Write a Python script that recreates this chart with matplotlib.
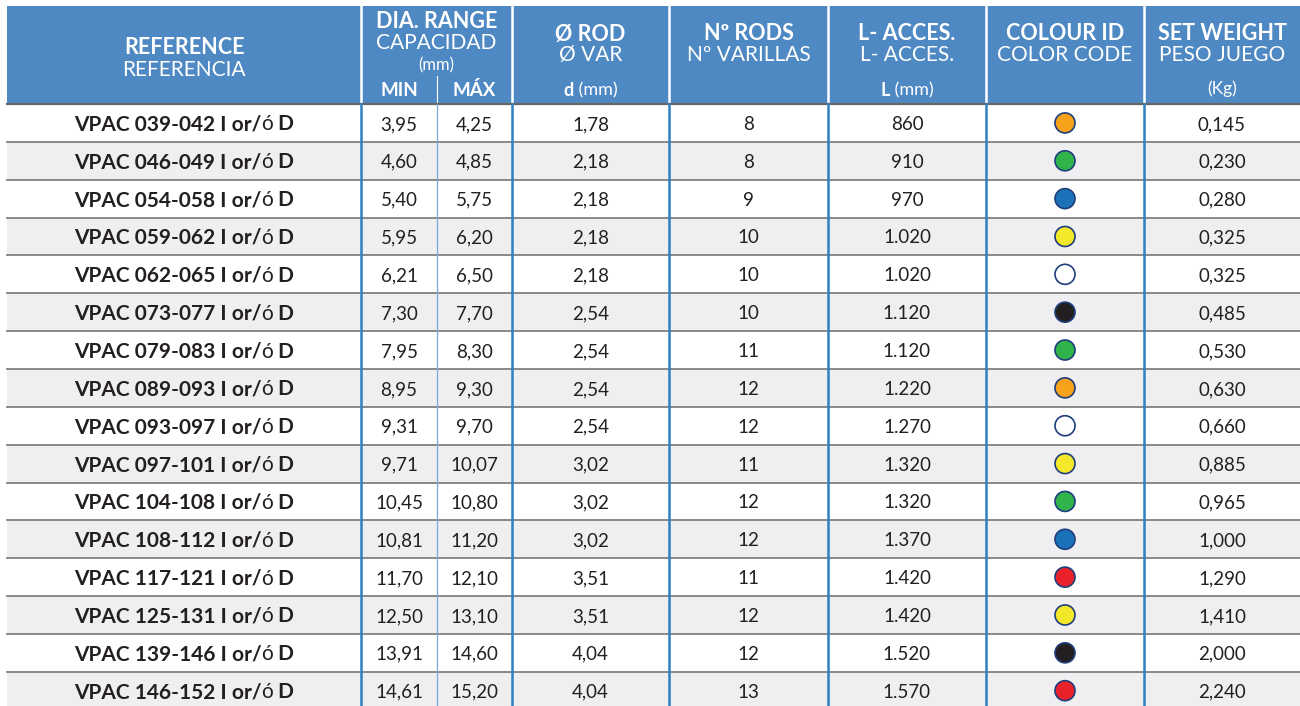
import matplotlib
matplotlib.use("Agg")
import matplotlib.pyplot as plt
from matplotlib.patches import Rectangle, Ellipse

# ---------------- data ----------------
ref_ranges = ["039-042", "046-049", "054-058", "059-062", "062-065", "073-077",
              "079-083", "089-093", "093-097", "097-101", "104-108", "108-112",
              "117-121", "125-131", "139-146", "146-152"]
dia_min = [3.95, 4.60, 5.40, 5.95, 6.21, 7.30, 7.95, 8.95, 9.31, 9.71, 10.45, 10.81,
           11.70, 12.50, 13.91, 14.61]
dia_max = [4.25, 4.85, 5.75, 6.20, 6.50, 7.70, 8.30, 9.30, 9.70, 10.07, 10.80, 11.20,
           12.10, 13.10, 14.60, 15.20]
rod_d = [1.78, 2.18, 2.18, 2.18, 2.18, 2.54, 2.54, 2.54, 2.54, 3.02, 3.02, 3.02,
         3.51, 3.51, 4.04, 4.04]
n_rods = [8, 8, 9, 10, 10, 10, 11, 12, 12, 11, 12, 12, 11, 12, 12, 13]
length_mm = [860, 910, 970, 1020, 1020, 1120, 1120, 1220, 1270, 1320, 1320, 1370,
             1420, 1420, 1520, 1570]
colour_id = ["orange", "green", "blue", "yellow", "white", "black", "green", "orange",
             "white", "yellow", "green", "blue", "red", "yellow", "black", "red"]
set_weight = [0.145, 0.230, 0.280, 0.325, 0.325, 0.485, 0.530, 0.630, 0.660, 0.885,
              0.965, 1.000, 1.290, 1.410, 2.000, 2.240]

header_en = ["REFERENCE", "DIA. RANGE", "Ø ROD", "Nº RODS", "L- ACCES.", "COLOUR ID", "SET WEIGHT"]
header_es = ["REFERENCIA", "CAPACIDAD", "Ø VAR", "Nº VARILLAS", "L- ACCES.", "COLOR CODE", "PESO JUEGO"]

# ---------------- styles ----------------
BLUE_HDR = "#4f89c3"
ROW_GRAY = "#efeff1"
TXT = "#231f20"
VLINE = "#2f7fc1"
HLINE = "#808080"
COLMAP = {"orange": "#f7a21b", "green": "#2fb34a", "blue": "#1b72b9", "yellow": "#f3e82a",
          "white": "#ffffff", "black": "#231f20", "red": "#e8212a"}
FONT = "Lato"
LIGHT = "normal"

def fmt_dec(v, n):
    return f"{v:.{n}f}".replace(".", ",")

def fmt_thou(v):
    return f"{v:,}".replace(",", ".")

W, H = 1300, 706
fig = plt.figure(figsize=(W / 100, H / 100), dpi=100)
ax = fig.add_axes([0, 0, 1, 1])
ax.set_xlim(0, W)
ax.set_ylim(H, 0)
ax.axis("off")

# column bounds
cols = [7, 361, 512, 669, 828, 986, 1144, 1300]
mid_split = 437
hdr_top, hdr_bot = 6, 104
row_h = 37.85

# header background
ax.add_patch(Rectangle((cols[0], hdr_top), cols[-1] - cols[0], hdr_bot - hdr_top,
                       facecolor=BLUE_HDR, edgecolor="none", zorder=1))
for x in cols[1:-1]:
    ax.plot([x, x], [hdr_top, hdr_bot], color="white", lw=1.8, zorder=2)
ax.plot([mid_split, mid_split], [76, hdr_bot], color="white", lw=0.8, zorder=2)

# rows
n = len(ref_ranges)
for i in range(n):
    y0 = hdr_bot + i * row_h
    fc = "white" if i % 2 == 0 else ROW_GRAY
    ax.add_patch(Rectangle((cols[0], y0), cols[-1] - cols[0], row_h,
                           facecolor=fc, edgecolor="none", zorder=1))
for i in range(n + 1):
    y = hdr_bot + i * row_h
    ax.plot([cols[0], cols[-1]], [y, y], color=HLINE if i else "#666666",
            lw=1.3 if i else 1.6, zorder=3)
for x in cols[1:-1]:
    ax.plot([x, x], [hdr_bot, H], color=VLINE, lw=1.8, zorder=4)
ax.plot([mid_split, mid_split], [hdr_bot, H], color="#7aa9d6", lw=0.9, zorder=4)

fig.canvas.draw()
renderer = fig.canvas.get_renderer()

def rich(x_center, y, parts, size, color):
    """parts: list of (text, weight). Centered at x_center."""
    objs = []
    widths = []
    for s, wgt in parts:
        t = ax.text(0, y, s, fontsize=size, fontweight=wgt, family=FONT, color=color,
                    ha="left", va="center", zorder=6)
        bb = t.get_window_extent(renderer=renderer)
        objs.append(t)
        widths.append(bb.width)
    total = sum(widths)
    x = x_center - total / 2
    for t, w in zip(objs, widths):
        t.set_x(x)
        x += w

def ctext(x, y, s, size, weight="normal", color=TXT, family=FONT):
    ax.text(x, y, s, fontsize=size, fontweight=weight, family=family, color=color,
            ha="center", va="center", zorder=6)

# header texts
centers = [(cols[i] + cols[i + 1]) / 2 for i in range(len(cols) - 1)]
HB, HL = 15.5, 15
ctext(centers[0], 47, header_en[0], HB, "bold", "white")
ctext(centers[0], 70, header_es[0], HL, LIGHT, "white")
ctext(centers[1], 21, header_en[1], HB, "bold", "white")
ctext(centers[1], 43, header_es[1], HL, LIGHT, "white")
ctext(centers[1], 65, "(mm)", 12, LIGHT, "white")
ctext((cols[1] + mid_split) / 2, 90, "MIN", 13.5, "bold", "white")
ctext((mid_split + cols[2]) / 2, 90, "MÁX", 13.5, "bold", "white")
for k in range(2, 7):
    ctext(centers[k], 34, header_en[k], HB, "bold", "white")
    ctext(centers[k], 55, header_es[k], HL, LIGHT, "white")
rich(centers[2], 90, [("d", "bold"), (" (mm)", LIGHT)], 13, "white")
rich(centers[4], 90, [("L", "bold"), (" (mm)", LIGHT)], 13, "white")
ctext(centers[6], 89, "(Kg)", 12.5, LIGHT, "white")

# body
DS = 13.5
for i in range(n):
    yc = hdr_bot + (i + 0.5) * row_h
    yt = yc + 1.5
    rich(centers[0], yt, [(f"VPAC {ref_ranges[i]} I or/", "bold"), ("ó", LIGHT), (" D", "bold")],
         15, TXT)
    ctext((cols[1] + mid_split) / 2, yt, fmt_dec(dia_min[i], 2), DS)
    ctext((mid_split + cols[2]) / 2, yt, fmt_dec(dia_max[i], 2), DS)
    ctext(centers[2], yt, fmt_dec(rod_d[i], 2), DS)
    ctext(centers[3], yt, str(n_rods[i]), DS)
    ctext(centers[4], yt, fmt_thou(length_mm[i]), DS)
    ax.add_patch(Ellipse((centers[5], yc), 20, 20, facecolor=COLMAP[colour_id[i]],
                         edgecolor="#1f3e7c", lw=1.2, zorder=6))
    ctext(centers[6], yt, fmt_dec(set_weight[i], 3), DS)

fig.savefig("out.png", dpi=100)
